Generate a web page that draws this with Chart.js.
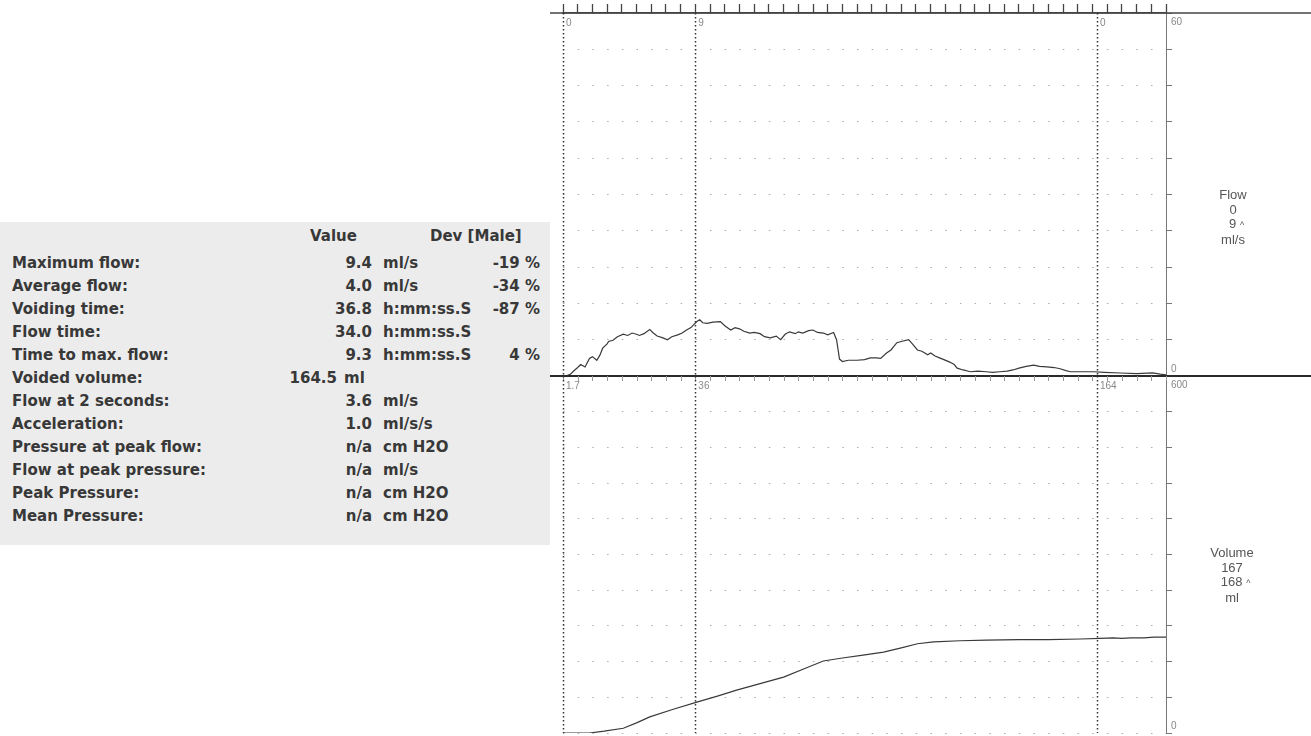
<!DOCTYPE html>
<html>
<head>
<meta charset="utf-8">
<script src="https://cdn.jsdelivr.net/npm/chart.js@4/dist/chart.umd.min.js"></script>
<style>
html,body{margin:0;padding:0;background:#fff;width:1311px;height:736px;overflow:hidden}
.box{position:absolute;left:0;width:1311px}
#flowBox{top:0;height:380px}
#volBox{top:366px;height:370px}
#stats{position:absolute;left:0;top:222px;width:550px;height:323px;background:#ececec;
font-family:"DejaVu Sans",sans-serif;font-weight:bold;font-size:15px;color:#383838}
.row{position:absolute;left:0;width:550px;height:23px;line-height:23px;white-space:nowrap}
.row span{position:absolute;top:0}
.lbl{left:12px}
.val{right:178px;text-align:right}
.unit{left:383px}
.dev{right:10px;text-align:right}
.row.shift .val{right:213px}
.row.shift .unit{left:344px}
.tiny{position:absolute;font-family:"Liberation Sans",Arial,sans-serif;font-size:10px;color:#888;white-space:nowrap}
.legend{position:absolute;font-family:"Liberation Sans",Arial,sans-serif;font-size:13px;color:#555;text-align:center;line-height:14.5px;width:80px}
</style>
</head>
<body>
<div id="stats"></div>
<div class="box" id="flowBox"><canvas id="flow" width="1311" height="380"></canvas></div>
<div class="box" id="volBox"><canvas id="vol" width="1311" height="370"></canvas></div>
<div class="legend" style="left:1193px;top:188px">Flow<br>0<br>&nbsp;&nbsp;9 <span style="font-size:9px">^</span><br>ml/s</div>
<div class="legend" style="left:1192px;top:546px">Volume<br>167<br>&nbsp;&nbsp;168 <span style="font-size:9px">^</span><br>ml</div>
<div id="labels"></div>
<script>
// stats table
const statLabels=["Maximum flow:","Average flow:","Voiding time:","Flow time:","Time to max. flow:","Voided volume:","Flow at 2 seconds:","Acceleration:","Pressure at peak flow:","Flow at peak pressure:","Peak Pressure:","Mean Pressure:"]
const statValues=["9.4","4.0","36.8","34.0","9.3","164.5","3.6","1.0","n/a","n/a","n/a","n/a"]
const statUnits=["ml/s","ml/s","h:mm:ss.S","h:mm:ss.S","h:mm:ss.S","ml","ml/s","ml/s/s","cm H2O","ml/s","cm H2O","cm H2O"]
const statDevs=["-19 %","-34 %","-87 %","","4 %","","","","","","",""]

// flow curve (s, ml/s)
const flowTimes=[0,0.3,0.5,0.8,1.0,1.2,1.5,1.8,2.0,2.3,2.5,2.7,3.0,3.1,3.4,3.7,4.1,4.4,4.7,5.0,5.2,5.5,5.9,6.1,6.4,6.8,7.1,7.4,7.8,8.1,8.4,8.7,9.1,9.3,9.5,9.8,10.2,10.7,11.0,11.4,11.7,12.0,12.3,12.7,13.0,13.4,13.7,14.1,14.5,14.8,15.1,15.4,15.8,16.0,16.3,16.7,17.0,17.3,17.7,18.0,18.4,18.6,18.8,19.0,19.4,20.0,20.5,20.9,21.3,21.6,22.0,22.3,22.7,23.0,23.5,23.8,24.1,24.4,24.8,25.0,25.3,25.6,25.9,26.3,26.6,26.8,27.2,27.7,28.2,28.8,29.2,29.7,30.2,30.6,31.0,31.5,32.0,32.4,32.9,33.4,33.8,34.2,34.5,35.2,36.1,36.8,37.9,39.0,40.1,40.6,41.0]
const flowValues=[0,0.1,0.3,1.0,1.4,1.9,1.5,2.9,3.2,2.6,3.4,4.6,5.3,5.7,5.9,6.5,6.9,6.7,7.1,6.9,6.7,7.0,7.7,7.2,6.6,6.3,6.0,6.5,6.8,7.1,7.6,8.0,9.0,9.3,8.8,8.7,8.9,9.0,8.3,7.6,8.0,7.8,7.4,7.1,7.2,7.0,6.5,6.3,6.6,6.0,6.9,7.3,7.0,7.3,7.1,7.5,7.6,7.2,7.1,6.8,7.2,6.0,2.8,2.4,2.6,2.6,2.7,3.0,3.0,2.9,3.8,4.3,5.5,5.7,6.0,5.2,4.3,4.1,3.5,3.8,3.3,3.0,2.7,2.3,1.9,1.3,1.0,0.7,0.8,0.7,0.6,0.7,0.8,1.0,1.3,1.6,1.8,1.6,1.5,1.4,1.2,0.9,0.7,0.7,0.7,0.6,0.5,0.4,0.5,0.3,0.2]

// volume curve (s, ml)
const volTimes=[0,1.8,2.8,4.1,5.0,5.9,7.5,9.1,10.5,11.8,13.4,15.0,16.4,17.7,19.0,20.4,21.8,23.0,24.1,25.2,27.0,28.8,31.0,33.0,35.2,36.5,37.4,38.0,38.6,39.5,40.2,40.8,41.0]
const volValues=[0,0,3,8,17,27,40,52,62,72,83,94,108,121,126,131,136,143,150,153,155,156,157,157,158,159,160,159,160,160,161,161,161]

// cursors
const cursorTimes=[0,9.0,36.3]
const cursorFlowLabels=["0","9","0"]
const cursorVolLabels=["1.7","36","164"]

const timeMax=41
const flowMax=60
const volMax=600

const stats=document.getElementById("stats")
statLabels.forEach((l,i)=>{
const r=document.createElement("div")
r.className="row"+(i===5?" shift":"")
r.style.top=(30+i*23)+"px"
r.innerHTML=`<span class="lbl">${l}</span><span class="val">${statValues[i]}</span><span class="unit">${statUnits[i]}</span><span class="dev">${statDevs[i]}</span>`
stats.appendChild(r)
})
const head=document.createElement("div")
head.className="row"
head.style.top="3px"
head.innerHTML=`<span style="left:310px">Value</span><span style="left:430px">Dev [Male]</span>`
stats.appendChild(head)

const decor={
id:"decor",
afterDatasetsDraw(chart,args,o){
const {ctx,chartArea:a,scales:{x}}=chart
ctx.save()
// horizontal rules running past the plot
o.rules.forEach(r=>{
const y=(r.at==="top"?a.top:a.bottom)
ctx.strokeStyle=r.color
ctx.lineWidth=r.width
ctx.beginPath()
ctx.moveTo(550,y)
ctx.lineTo(chart.width,y)
ctx.stroke()
})
if(o.minorTicks){
ctx.strokeStyle="#999"
ctx.lineWidth=1
for(let t=0;t<=timeMax;t++){
const px=Math.round(x.getPixelForValue(t))+0.5
ctx.beginPath()
ctx.moveTo(px,a.top)
ctx.lineTo(px,a.top+5)
ctx.stroke()
}
}
// cursor lines
ctx.strokeStyle="#333"
ctx.lineWidth=1.5
ctx.setLineDash([1.5,2.5])
cursorTimes.forEach(t=>{
const px=Math.round(x.getPixelForValue(t))+0.5
ctx.beginPath()
ctx.moveTo(px,a.top)
ctx.lineTo(px,a.bottom)
ctx.stroke()
})
ctx.restore()
}
}

function yAxis(max){
return {
position:"right",min:0,max:max,
ticks:{display:false,stepSize:max/10},
grid:{color:"#aaa",lineWidth:1,tickLength:6,tickColor:"#777",tickWidth:1},
border:{color:"#777",width:1,dash:[1.5,13.2]},
afterFit(s){s.width=145}
}
}

const flowChart=new Chart(document.getElementById("flow"),{
type:"line",
data:{datasets:[{
data:flowTimes.map((t,i)=>({x:t,y:flowValues[i]})),
borderColor:"#3a3a3a",borderWidth:1.2,pointRadius:0,tension:0
}]},
plugins:[decor],
options:{
animation:false,responsive:false,devicePixelRatio:1,
layout:{padding:{left:563,top:0,right:0,bottom:4}},
plugins:{legend:{display:false},tooltip:{enabled:false},
decor:{rules:[{at:"top",color:"#444",width:1.5},{at:"bottom",color:"#2a2a2a",width:2}]}},
scales:{
x:{type:"linear",position:"top",min:0,max:timeMax,
ticks:{display:false,stepSize:1},
grid:{drawOnChartArea:false,tickLength:9,tickColor:"#444",tickWidth:1.3},
border:{color:"#444",width:1.5},
afterFit(s){s.height=13}},
y:yAxis(flowMax)
}
}
})

const volChart=new Chart(document.getElementById("vol"),{
type:"line",
data:{datasets:[{
data:volTimes.map((t,i)=>({x:t,y:volValues[i]})),
borderColor:"#3a3a3a",borderWidth:1.2,pointRadius:0,tension:0
}]},
plugins:[decor],
options:{
animation:false,responsive:false,devicePixelRatio:1,
layout:{padding:{left:563,top:10,right:0,bottom:3}},
plugins:{legend:{display:false},tooltip:{enabled:false},
decor:{rules:[{at:"top",color:"#2a2a2a",width:2}],minorTicks:true}},
scales:{
x:{type:"linear",display:false,min:0,max:timeMax},
y:yAxis(volMax)
}
}
})

// small numbers placed from the scales
const labels=document.getElementById("labels")
function tiny(text,left,top){
const d=document.createElement("div")
d.className="tiny"
d.textContent=text
d.style.left=left+"px"
d.style.top=top+"px"
labels.appendChild(d)
}
const fx=flowChart.scales.x, fy=flowChart.scales.y, vy=volChart.scales.y
cursorTimes.forEach((t,i)=>{
const px=fx.getPixelForValue(t)
tiny(cursorFlowLabels[i],px+3,fy.getPixelForValue(flowMax)+4)
tiny(cursorVolLabels[i],px+3,vy.getPixelForValue(volMax)+366+4)
})
tiny(String(flowMax),fy.right-140,fy.getPixelForValue(flowMax)+3)
tiny("0",fy.right-140,fy.getPixelForValue(0)-13)
tiny(String(volMax),vy.right-140,vy.getPixelForValue(volMax)+366+3)
tiny("0",vy.right-140,vy.getPixelForValue(0)+366-13)
</script>
</body>
</html>
